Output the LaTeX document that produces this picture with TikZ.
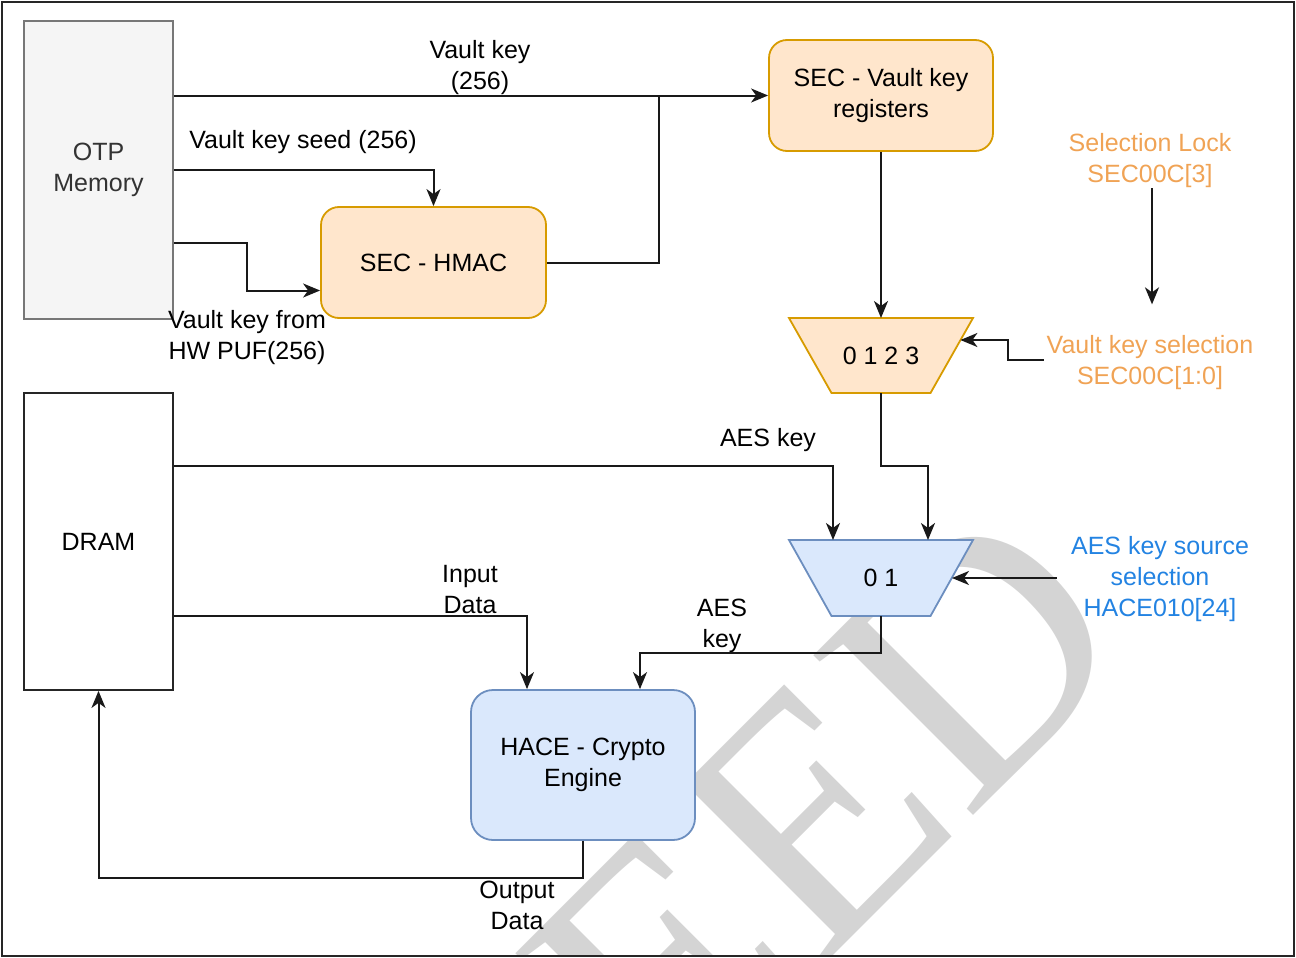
\documentclass[tikz,border=0pt]{standalone}
\usepackage{fontspec}
\setmainfont{Liberation Sans}
\newfontfamily\wmfont{Liberation Serif}
\usetikzlibrary{arrows.meta,calc}
\definecolor{orfill}{HTML}{FFE6CC}
\definecolor{ordraw}{HTML}{D79B00}
\definecolor{blfill}{HTML}{DAE8FC}
\definecolor{bldraw}{HTML}{6C8EBF}
\definecolor{otpfill}{HTML}{F5F5F5}
\definecolor{otpdraw}{HTML}{777777}
\definecolor{ortext}{RGB}{240,163,85}
\definecolor{bltext}{RGB}{35,131,226}
\definecolor{wmgray}{RGB}{212,212,212}
\tikzset{
  txt/.style={font=\fontsize{25}{31}\selectfont, align=center},
  box/.style={txt, draw, line width=1.8pt, inner sep=0pt},
  otpbox/.style={box, fill=otpfill, draw=otpdraw, text=black!80, minimum width=149pt, minimum height=298pt},
  drambox/.style={box, fill=white, draw=black!85, minimum width=149pt, minimum height=297pt},
  orbox/.style={box, fill=orfill, draw=ordraw, rounded corners=18pt},
  blbox/.style={box, fill=blfill, draw=bldraw, rounded corners=22pt},
  muxshape/.style={line width=1.8pt},
  lbl/.style={txt, inner sep=0pt},
  arr/.style={line width=2pt, draw=black!90, -{Stealth[length=17pt,width=14pt,inset=5pt]}},
  ln/.style={line width=2pt, draw=black!90}
}
\begin{document}
\begin{tikzpicture}[x=1pt,y=-1pt]
\useasboundingbox (0,0) rectangle (1296,958);
% watermark
\begin{scope}
\clip (3,3) rectangle (1293,955);
\node[text=wmgray, font=\wmfont\fontsize{345}{345}\selectfont, rotate=45, inner sep=0pt] (wm) at (826,804) {EED};
\end{scope}
% nodes
\node[otpbox] (otp) at (98.5,170) {OTP\\Memory};
\node[orbox, minimum width=225pt, minimum height=111pt] (hmac) at (433.5,262.5) {SEC - HMAC};
\node[orbox, minimum width=224pt, minimum height=111pt] (reg) at (881,95.5) {SEC - Vault key\\registers};
\node[drambox] (dram) at (98.5,541.5) {DRAM};
\node[blbox, minimum width=224pt, minimum height=150pt] (hace) at (583,765) {HACE - Crypto\\Engine};
% multiplexers
\coordinate (m1c) at (881,355.5);
\draw[muxshape, fill=orfill, draw=ordraw] ($(m1c)+(-92,-37.5)$) -- ($(m1c)+(92,-37.5)$) -- ($(m1c)+(49.5,37.5)$) -- ($(m1c)+(-49.5,37.5)$) -- cycle;
\node[lbl] (m1) at (m1c) {0 1 2 3};
\coordinate (m1top) at ($(m1c)+(0,-37.5)$);
\coordinate (m1bot) at ($(m1c)+(0,37.5)$);
\coordinate (m1side) at ($(m1c)+(79.4,-15.5)$);
\coordinate (m2c) at (881,578);
\draw[muxshape, fill=blfill, draw=bldraw] ($(m2c)+(-92,-38)$) -- ($(m2c)+(92,-38)$) -- ($(m2c)+(49.5,38)$) -- ($(m2c)+(-49.5,38)$) -- cycle;
\node[lbl] (m2) at (m2c) {0 1};
\coordinate (m2inA) at ($(m2c)+(-48,-38)$);
\coordinate (m2inB) at ($(m2c)+(47,-38)$);
\coordinate (m2bot) at ($(m2c)+(0,38)$);
\coordinate (m2side) at ($(m2c)+(71,0)$);
% side labels
\node[lbl, text=ortext] (sl) at (1150,161) {Selection Lock\\SEC00C[3]};
\node[lbl, text=ortext] (vks) at (1150,363) {Vault key selection\\SEC00C[1:0]};
\node[lbl, text=bltext] (aks) at (1160,579) {AES key source\\selection\\HACE010[24]};
% connector labels
\node[lbl] (l1) at (480,68) {Vault key\\(256)};
\node[lbl] (l2) at (303,142) {Vault key seed (256)};
\node[lbl] (l3) at (247,338) {Vault key from\\HW PUF(256)};
\node[lbl] (l4) at (768,440) {AES key};
\node[lbl] (l5) at (722,626) {AES\\key};
\node[lbl] (l6) at (470,590) {Input\\Data};
\node[lbl] (l7) at (517,905) {Output\\Data};
% connectors
\draw[arr] (otp.east |- reg.west) -- (reg.west);
\draw[arr] (otp.east) -| (hmac.north);
\draw[arr] ([yshift=-73pt]otp.east) -| ([xshift=-73pt,yshift=-28pt]hmac.west) -- ([yshift=-28pt]hmac.west);
\draw[ln] (hmac.east) -- ++(112,0) -- ++(0,-167);
\draw[arr] (reg.south) -- (m1top);
\draw[arr] (sl.south) ++(2,0) -- ++(0,116);
\draw[arr] ([yshift=3pt,xshift=-3pt]vks.west) -- ++(-36,0) |- (m1side);
\draw[arr] (m1bot) -- ++(0,73) -| (m2inB);
\draw[arr] ([yshift=75.5pt]dram.east) -| (m2inA);
\draw[arr] ($(aks.west |- m2side)+(-14,0)$) -- (m2side);
\draw[arr] (m2bot) -- ++(0,37) -| ([xshift=57pt]hace.north);
\draw[arr] ([yshift=-74.5pt]dram.east) -| ([xshift=-56pt]hace.north);
\draw[arr] (hace.south) -- ++(0,37) -| (dram.south);
% frame
\draw[line width=2.6pt, draw=black!85] (2,2) rectangle (1294,956);
\end{tikzpicture}
\end{document}
